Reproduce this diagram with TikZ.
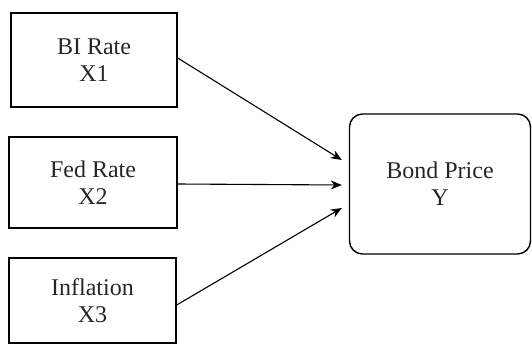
\documentclass[tikz,border=0pt]{standalone}
\usepackage{fontspec}
\setmainfont{Liberation Serif}
\usetikzlibrary{arrows.meta,calc}
\begin{document}
\begin{tikzpicture}[x=1pt,y=-1pt,
  box/.style={draw, line width=1.4pt, inner sep=0pt, align=center, text=black!85,
    font=\fontsize{24}{27}\selectfont},
  link/.style={line width=1.1pt, -{Stealth[length=11pt,width=9pt]}}]
\useasboundingbox (0,0) rectangle (532,350);
\node[box, minimum width=166pt, minimum height=94pt] (x1) at (94,60) {BI Rate\\X1};
\node[box, minimum width=168pt, minimum height=91pt] (x2) at (93,182.5) {Fed Rate\\X2};
\node[box, minimum width=167pt, minimum height=85pt] (x3) at (92.5,300.5) {Inflation\\X3};
\node[box, rounded corners=13pt, minimum width=181pt, minimum height=140pt] (y) at (440,184) {Bond Price\\Y};
\coordinate (t1) at ($(y.west)+(-7,-24)$);
\coordinate (t2) at ($(y.west)+(-7,1)$);
\coordinate (t3) at ($(y.west)+(-7,24)$);
\draw[link] ($(x1.east)+(0,-2)$) -- (t1);
\draw[link] ($(x2.east)+(0,1.5)$) -- (t2);
\draw[link] ($(x3.east)+(0,4.5)$) -- (t3);
\end{tikzpicture}
\end{document}
